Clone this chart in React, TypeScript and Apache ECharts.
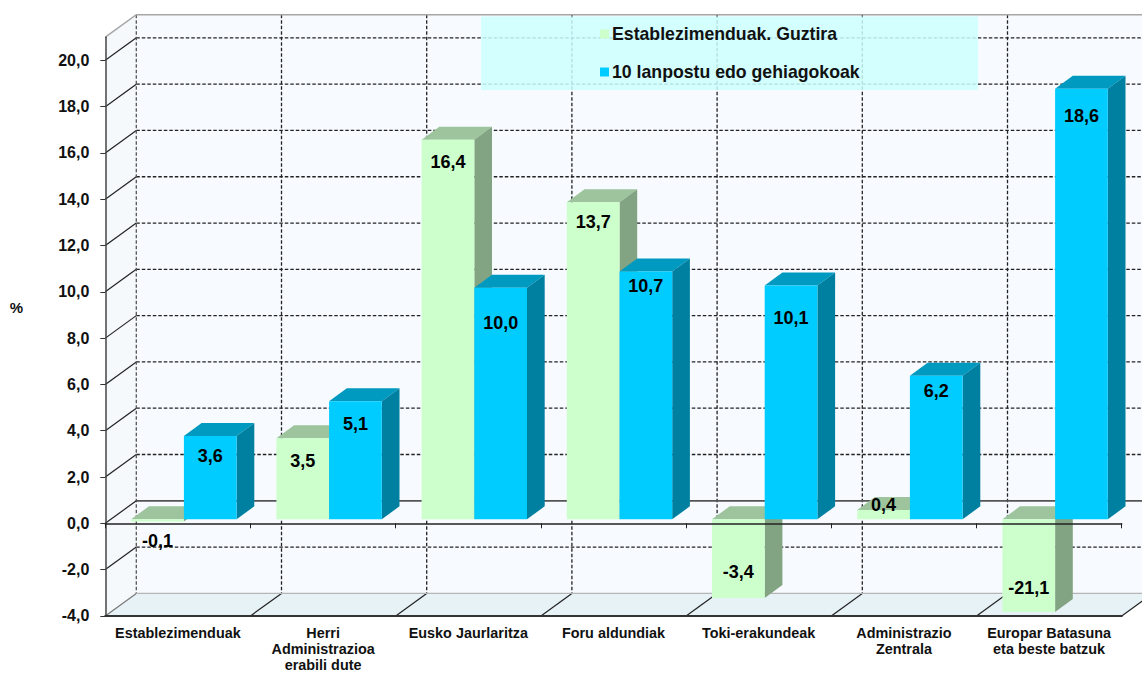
import React, { useEffect, useRef } from "react";
import * as echarts from "echarts";

const categories = [
  "Establezimenduak",
  "Herri\nAdministrazioa\nerabili dute",
  "Eusko Jaurlaritza",
  "Foru aldundiak",
  "Toki-erakundeak",
  "Administrazio\nZentrala",
  "Europar Batasuna\neta beste batzuk",
];
const seriesNames = ["Establezimenduak. Guztira", "10 lanpostu edo gehiagokoak"];
const guztira = [-0.1, 3.5, 16.4, 13.7, -3.4, 0.4, -21.1];
const lanpostu = [3.6, 5.1, 10.0, 10.7, 10.1, 6.2, 18.6];
const yTicks = [-4, -2, 0, 2, 4, 6, 8, 10, 12, 14, 16, 18, 20];
const yGrid = [-2, 2, 4, 6, 8, 10, 12, 14, 16, 18, 20];

// layout: hand-placed label shifts (px from the end of each bar's front face)
const guztiraLabelShift = [19.5, 23, 22.5, 20, -26, -5, -23.7];
const lanpostuLabelShift = [20, 23, 35, 14.5, 32.5, 15, 27.5];

const Y_MIN = -4;
const Y_MAX = 21;
const WALL_DX = 31;
const WALL_DY = -22.5;
const BAR_SHIFT_X = 6;
const BAR_SHIFT_Y = -4;
const BAR_W = 52.7;
const BAR_DX = 17.7;
const BAR_DY = -13;
const FONT = '"Liberation Sans", Arial, sans-serif';

function wallsItem(_params: any, api: any) {
  const band = api.size([1, 0])[0];
  const left = api.coord([0, 0])[0] - band / 2;
  const yAt = (v: number) => api.coord([0, v])[1];
  const right = left + band * categories.length;
  const top = yAt(Y_MAX);
  const bot = yAt(Y_MIN);
  const bx = left + WALL_DX;
  const dark = "#222";
  const dash = [3.5, 2];
  const kids: any[] = [];
  kids.push({
    type: "polygon",
    shape: { points: [[left, top], [bx, top + WALL_DY], [bx, bot + WALL_DY], [left, bot]] },
    style: { fill: "#F6F9FC" },
  });
  kids.push({
    type: "rect",
    shape: { x: bx, y: top + WALL_DY, width: right - left, height: bot - top },
    style: { fill: "#F7FBFF" },
  });
  kids.push({
    type: "polygon",
    shape: { points: [[left, bot], [bx, bot + WALL_DY], [right + WALL_DX, bot + WALL_DY], [right, bot]] },
    style: { fill: "#E7F2F7" },
  });
  yGrid.forEach((v) => {
    const y = yAt(v);
    kids.push({
      type: "line",
      shape: { x1: bx, y1: y + WALL_DY, x2: right + WALL_DX, y2: y + WALL_DY },
      style: { stroke: dark, lineWidth: 1.3, lineDash: dash },
    });
    kids.push({
      type: "line",
      shape: { x1: left, y1: y, x2: bx, y2: y + WALL_DY },
      style: { stroke: dark, lineWidth: 1.2 },
    });
  });
  for (let i = 0; i <= categories.length; i++) {
    const x = bx + band * i;
    kids.push({
      type: "line",
      shape: { x1: x, y1: top + WALL_DY, x2: x, y2: bot + WALL_DY },
      style: { stroke: i === 0 ? "#555" : dark, lineWidth: 1.3, lineDash: dash },
    });
    kids.push({
      type: "line",
      shape: { x1: left + band * i, y1: bot, x2: x, y2: bot + WALL_DY },
      style: { stroke: i === 0 ? "#777" : dark, lineWidth: 1.2 },
    });
  }
  // zero line on back wall and its diagonal
  kids.push({
    type: "line",
    shape: { x1: bx, y1: yAt(0) + WALL_DY, x2: right + WALL_DX, y2: yAt(0) + WALL_DY },
    style: { stroke: "#555", lineWidth: 1.8 },
  });
  kids.push({
    type: "line",
    shape: { x1: left, y1: yAt(0), x2: bx, y2: yAt(0) + WALL_DY },
    style: { stroke: dark, lineWidth: 1.2 },
  });
  // top edges and floor back edge
  kids.push({
    type: "polyline",
    shape: { points: [[left, top], [bx, top + WALL_DY], [right + WALL_DX, top + WALL_DY]] },
    style: { stroke: "#A6A6A6", lineWidth: 1.5, fill: "none" },
  });
  kids.push({
    type: "line",
    shape: { x1: bx, y1: bot + WALL_DY, x2: right + WALL_DX, y2: bot + WALL_DY },
    style: { stroke: "#B5B5B5", lineWidth: 1.2 },
  });
  return { type: "group", children: kids };
}

function barItem(side: "left" | "right", colors: string[], shifts: number[]) {
  return (params: any, api: any) => {
    const idx = api.value(0);
    const val = api.value(1);
    const c = api.coord([idx, 0]);
    const xc = c[0] + BAR_SHIFT_X;
    const base = c[1] + BAR_SHIFT_Y;
    const floor = api.coord([idx, Y_MIN])[1] + BAR_SHIFT_Y;
    const end = Math.min(api.coord([idx, val])[1] + BAR_SHIFT_Y, floor);
    const x0 = side === "left" ? xc - BAR_W : xc;
    const x1 = x0 + BAR_W;
    const yt = Math.min(base, end);
    const yb = Math.max(base, end);
    const shift = shifts[params.dataIndex];
    const label = val.toFixed(1).replace(".", ",");
    return {
      type: "group",
      children: [
        {
          type: "polygon",
          shape: { points: [[x0, yt], [x1, yt], [x1 + BAR_DX, yt + BAR_DY], [x0 + BAR_DX, yt + BAR_DY]] },
          style: { fill: colors[1] },
        },
        {
          type: "polygon",
          shape: { points: [[x1, yt], [x1 + BAR_DX, yt + BAR_DY], [x1 + BAR_DX, yb + BAR_DY], [x1, yb]] },
          style: { fill: colors[2] },
        },
        { type: "rect", shape: { x: x0, y: yt, width: BAR_W, height: yb - yt }, style: { fill: colors[0] } },
        {
          type: "text",
          style: {
            text: label,
            x: x0 + BAR_W / 2,
            y: end + shift,
            align: "center",
            verticalAlign: "middle",
            font: `bold 18px ${FONT}`,
            fill: "#000",
          },
        },
      ],
    };
  };
}

export default function App() {
  const ref = useRef<HTMLDivElement>(null);
  useEffect(() => {
    const chart = echarts.init(ref.current!, undefined, { renderer: "svg" });
    chart.setOption({
      animation: false,
      backgroundColor: "#fff",
      grid: { left: 105.3, top: 37.2, width: 1016.4, height: 578.7, outerBoundsMode: "none" },
      xAxis: [
        {
          type: "category",
          data: categories,
          position: "bottom",
          axisLine: { onZero: false, lineStyle: { color: "#333", width: 2.2 } },
          axisTick: { show: false },
          axisLabel: {
            interval: 0,
            margin: 9,
            lineHeight: 16,
            fontFamily: FONT,
            fontWeight: "bold",
            fontSize: 14.4,
            color: "#111",
          },
          z: 5,
        },
        {
          type: "category",
          data: categories,
          position: "bottom",
          axisLine: { onZero: true, lineStyle: { color: "#222", width: 1.5 } },
          axisTick: { show: true, length: 5, lineStyle: { color: "#222", width: 1 } },
          axisLabel: { show: false },
          z: 5,
        },
      ],
      yAxis: {
        type: "value",
        min: Y_MIN,
        max: Y_MAX,
        interval: 2,
        splitLine: { show: false },
        axisLine: { show: true, onZero: false, lineStyle: { color: "#444", width: 1.5 } },
        axisTick: { show: true, length: 5, customValues: yTicks, lineStyle: { color: "#333", width: 1 } },
        axisLabel: {
          customValues: yTicks,
          margin: 16,
          fontFamily: FONT,
          fontWeight: "bold",
          fontSize: 16,
          color: "#111",
          formatter: (v: number) => v.toFixed(1).replace(".", ","),
        },
        z: 5,
      },
      legend: {
        orient: "vertical",
        left: 595,
        top: 20,
        itemGap: 20,
        itemWidth: 9,
        itemHeight: 9,
        icon: "rect",
        z: 20,
        selectedMode: false,
        data: seriesNames,
        textStyle: { fontFamily: FONT, fontWeight: "bold", fontSize: 17.7, color: "#111", padding: [0, 0, 0, -2] },
      },
      graphic: [
        {
          type: "rect",
          z: 10,
          silent: true,
          shape: { x: 481, y: 16.5, width: 497, height: 73.5 },
          style: { fill: "rgba(204,255,255,0.85)" },
        },
        {
          type: "text",
          z: 10,
          silent: true,
          style: {
            text: "%",
            x: 16.5,
            y: 307,
            align: "center",
            verticalAlign: "middle",
            font: `bold 15px ${FONT}`,
            fill: "#111",
          },
        },
      ],
      series: [
        {
          type: "custom",
          name: "walls",
          z: 1,
          silent: true,
          clip: false,
          renderItem: wallsItem,
          data: [[0, 0]],
          encode: { x: 0, y: 1 },
        },
        {
          type: "custom",
          name: seriesNames[0],
          z: 2,
          silent: true,
          clip: false,
          itemStyle: { color: "#CCFFCC" },
          renderItem: barItem("left", ["#CCFFCC", "#9DC49D", "#83A483"], guztiraLabelShift),
          data: guztira.map((v, i) => [i, v]),
          encode: { x: 0, y: 1 },
        },
        {
          type: "custom",
          name: seriesNames[1],
          z: 3,
          silent: true,
          clip: false,
          itemStyle: { color: "#00CCFF" },
          renderItem: barItem("right", ["#00CCFF", "#0099BF", "#0080A0"], lanpostuLabelShift),
          data: lanpostu.map((v, i) => [i, v]),
          encode: { x: 0, y: 1 },
        },
      ],
    });
    return () => chart.dispose();
  }, []);
  return (
    <div
      ref={ref}
      style={{ position: "absolute", left: 0, top: 0, width: 1142, height: 673, overflow: "hidden" }}
    />
  );
}
